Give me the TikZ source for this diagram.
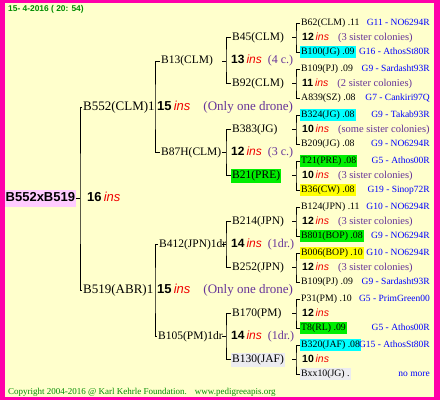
\documentclass[tikz,border=0pt]{standalone}
\usepackage{fontspec}
\setmainfont{Liberation Serif}
\newfontfamily\sansfam{Liberation Sans}
\usepackage{xcolor}
\definecolor{pageyellow}{RGB}{255, 255, 204}
\definecolor{framepink}{RGB}{255, 0, 170}
\definecolor{rootpink}{RGB}{255, 204, 255}
\definecolor{markcyan}{RGB}{0, 255, 255}
\definecolor{markgreen}{RGB}{0, 238, 0}
\definecolor{markyellow}{RGB}{255, 255, 0}
\definecolor{markgray}{RGB}{236, 236, 240}
\definecolor{insred}{RGB}{240, 0, 0}
\definecolor{notepurple}{RGB}{102, 51, 153}
\definecolor{originblue}{RGB}{0, 0, 255}
\definecolor{stampgreen}{RGB}{0, 140, 0}
\newcommand{\insno}[1]{{\sansfam\bfseries #1}\,{\sansfam\itshape\color{insred}ins}}
\newcommand{\sisnote}[1]{{\color{notepurple}#1}}

\begin{document}
\begin{tikzpicture}[x=1pt, y=-1pt, inner xsep=1pt,
    link/.style={black, line width=1pt},
    rootbox/.style={anchor=west, fill=rootpink, inner ysep=1.75pt, text height=10pt, text depth=3.5pt,
        font=\sansfam\bfseries\fontsize{13}{13}\selectfont},
    midlbl/.style={anchor=west, inner ysep=1pt, text height=9.5pt, text depth=3pt, font=\fontsize{13}{13}\selectfont},
    sublbl/.style={anchor=west, inner ysep=1.25pt, text height=8.5pt, text depth=3pt, font=\fontsize{11.5}{11.5}\selectfont},
    leaf/.style={anchor=west, inner ysep=1pt, text height=7.5pt, text depth=2.5pt, font=\fontsize{9.8}{9.8}\selectfont},
    origin/.style={anchor=east, text=originblue, text height=7.5pt, text depth=2.5pt, font=\fontsize{9.5}{9.5}\selectfont},
    rootno/.style={anchor=west, text height=10pt, text depth=3.5pt, font=\fontsize{13}{13}\selectfont},
    midno/.style={anchor=west, text height=9.5pt, text depth=3pt, font=\fontsize{13}{13}\selectfont},
    subno/.style={anchor=west, text height=8.5pt, text depth=3pt, font=\fontsize{12}{12}\selectfont},
    cntno/.style={anchor=west, text height=7.5pt, text depth=2.5pt, font=\fontsize{10.5}{10.5}\selectfont},
    stamp/.style={anchor=west, inner sep=0pt, text=stampgreen}]
    % ── Page and frame ──────────────────────────────────────────────
    \useasboundingbox (0,0) rectangle (440,400);
    \fill[framepink] (0,0) rectangle (440,400);
    \fill[pageyellow] (5,3) rectangle (434,397);
    
    \node[stamp, font=\sansfam\bfseries\fontsize{8.4}{8.4}\selectfont] (date) at (8,9) {15- 4-2016 ( 20: 54)};
    \node[stamp, font=\fontsize{9}{9}\selectfont] (credit) at (8,392)
    {Copyright 2004-2016 @ Karl Kehrle Foundation.\hspace{8pt}www.pedigreeapis.org};
    
    % ── Queen and her parents ───────────────────────────────────────
    \node[rootbox] (root) at (4.5,198.5) {B552xB519};
    \node[rootno] (ins16) at (86,198.5) {\insno{16}};
    \node[midlbl] (clm552) at (82,107) {B552(CLM)1};
    \node[midlbl] (abr519) at (82,290.5) {B519(ABR)1};
    \coordinate (forkroot) at (80,198.5);
    \draw[link] (root) -- (forkroot);
    \draw[link] (clm552.west) -| (forkroot) |- (abr519.west);
    
    \node[midno] (ins552) at (156,107) {\insno{15}\hspace{13pt}\sisnote{(Only one drone)}};
    \node[midno] (ins519) at (156,290.5) {\insno{15}\hspace{13pt}\sisnote{(Only one drone)}};
    
    % ── Grandparents ────────────────────────────────────────────────
    \node[sublbl] (clm13) at (160,61) {B13(CLM)};
    \node[sublbl] (clm87h) at (160,152.5) {B87H(CLM)};
    \node[sublbl] (jpn412) at (158,244.5) {B412(JPN)1dr};
    \node[sublbl] (pm105) at (157,336.5) {B105(PM)1dr};
    \coordinate (fork552) at (155,107);
    \coordinate (fork519) at (155,290.5);
    \draw[link] (clm13.west) -| (fork552) |- (clm87h.west);
    \draw[link] (jpn412.west) -| (fork519) |- (pm105.west);
    
    \node[subno] (ins13) at (230,61) {\insno{13}\hspace{6pt}\sisnote{(4 c.)}};
    \node[subno] (ins87h) at (230,152.5) {\insno{12}\hspace{6pt}\sisnote{(3 c.)}};
    \node[subno] (ins412) at (230,244.5) {\insno{14}\hspace{6pt}\sisnote{(1dr.)}};
    \node[subno] (ins105) at (230,336.5) {\insno{14}\hspace{6pt}\sisnote{(1dr.)}};
    
    % ── Great-grandparents ──────────────────────────────────────────
    \node[sublbl] (clm45) at (231,37.5) {B45(CLM)};
    \node[sublbl] (clm92) at (231,83.5) {B92(CLM)};
    \node[sublbl] (jg383) at (231,129.5) {B383(JG)};
    \node[sublbl, fill=markgreen] (pre21) at (231,175.5) {B21(PRE)};
    \node[sublbl] (jpn214) at (231,221.5) {B214(JPN)};
    \node[sublbl] (jpn252) at (231,267.5) {B252(JPN)};
    \node[sublbl] (pm170) at (231,313.5) {B170(PM)};
    \node[sublbl, fill=markgray] (jaf130) at (231,359.5) {B130(JAF)};
    
    \foreach \parent/\upper/\lower/\y in {clm13/clm45/clm92/61, clm87h/jg383/pre21/152.5,
        jpn412/jpn214/jpn252/244.5, pm105/pm170/jaf130/336.5}{
        \coordinate (fork\parent) at (226,\y);
        \draw[link] (\upper.west) -| (fork\parent) |- (\lower.west);
        \draw[link] (fork\parent) -- ++(-4,0);
    }
    
    % ── Outer row: colonies with their origin ───────────────────────
    \foreach \k/\topid/\topfill/\toporg/\insn/\remark/\botid/\botfill/\botorg in {
        0/B62(CLM) .11/none/G11 - NO6294R/12/(3 sister colonies)/B100(JG) .09/markcyan/G16 - AthosSt80R,
        1/B109(PJ) .09/none/G9 - Sardasht93R/11/(2 sister colonies)/A839(SZ) .08/none/G7 - Cankiri97Q,
        2/B324(JG) .08/markcyan/G9 - Takab93R/10/(some sister colonies)/B209(JG) .08/none/G9 - NO6294R,
        3/T21(PRE) .08/markgreen/G5 - Athos00R/10/(3 sister colonies)/B36(CW) .08/markyellow/G19 - Sinop72R,
        4/B124(JPN) .11/none/G10 - NO6294R/12/(3 sister colonies)/B801(BOP) .08/markgreen/G9 - NO6294R,
        5/B006(BOP) .10/markyellow/G10 - NO6294R/12/(3 sister colonies)/B109(PJ) .09/none/G9 - Sardasht93R,
        6/P31(PM) .10/none/G5 - PrimGreen00/12/{}/T8(RL) .09/markgreen/G5 - Athos00R,
        7/B320(JAF) .08/markcyan/G15 - AthosSt80R/10/{}/Bxx10(JG) ./markgray/no more}{
        \pgfmathsetmacro{\ys}{23+46*\k}
        \pgfmathsetmacro{\ym}{\ys+14.5}
        \pgfmathsetmacro{\yb}{\ys+29}
        \node[leaf, fill=\topfill] (top\k) at (300,\ys) {\topid};
        \node[leaf, fill=\botfill] (bot\k) at (300,\yb) {\botid};
        \node[cntno] (cnt\k) at (301,\ym) {\insno{\insn}\hspace{9pt}\sisnote{\remark}};
        \node[origin] (orgt\k) at (431,\ys) {\toporg};
        \node[origin] (orgb\k) at (431,\yb) {\botorg};
        \coordinate (fork\k) at (296,\ym);
        \draw[link] (top\k.west) -| (fork\k) |- (bot\k.west);
        \draw[link] (fork\k) -- ++(-4,0);
    }
\end{tikzpicture}
\end{document}
